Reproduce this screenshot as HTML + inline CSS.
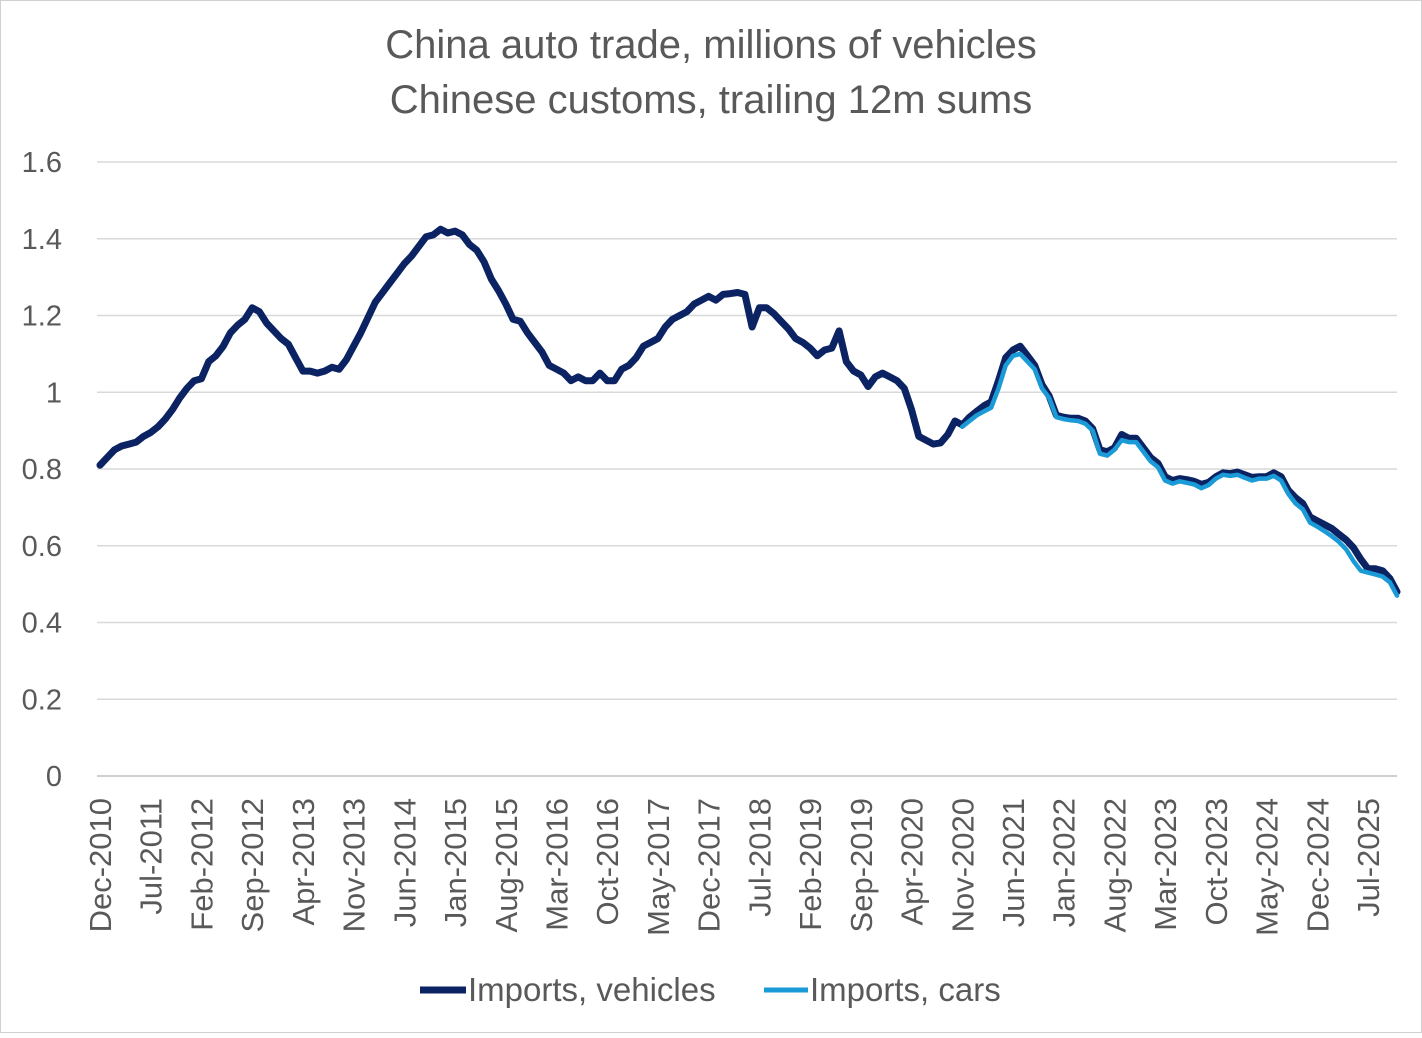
<!DOCTYPE html>
<html><head><meta charset="utf-8"><style>
body{margin:0;background:#fff;}
svg text{font-family:"Liberation Sans",sans-serif;fill:#595959;}
</style></head><body>
<svg id="chart" width="1422" height="1033">
<rect x="0.5" y="0.5" width="1421" height="1032" fill="#fff" stroke="#d0d0d0"/>
<text x="711" y="58" font-size="40" text-anchor="middle">China auto trade, millions of vehicles</text>
<text x="711" y="113" font-size="40" text-anchor="middle">Chinese customs, trailing 12m sums</text>
<g id="grid"></g><g id="yticks"></g><g id="xticks"></g><g id="series"></g>
<g>
<line x1="420" y1="990" x2="466" y2="990" stroke="#0b2363" stroke-width="7"/>
<text x="468" y="1001" font-size="33">Imports, vehicles</text>
<line x1="764" y1="990" x2="808" y2="990" stroke="#1a9ad6" stroke-width="5"/>
<text x="810" y="1001" font-size="33">Imports, cars</text>
</g>
</svg>
<script>
const yTicks=[0,0.2,0.4,0.6,0.8,1,1.2,1.4,1.6];
const xLabels=["Dec-2010","Jul-2011","Feb-2012","Sep-2012","Apr-2013","Nov-2013","Jun-2014","Jan-2015","Aug-2015","Mar-2016","Oct-2016","May-2017","Dec-2017","Jul-2018","Feb-2019","Sep-2019","Apr-2020","Nov-2020","Jun-2021","Jan-2022","Aug-2022","Mar-2023","Oct-2023","May-2024","Dec-2024","Jul-2025"];
const vehicles=[0.81,0.83,0.85,0.86,0.865,0.87,0.885,0.895,0.91,0.93,0.955,0.985,1.01,1.03,1.035,1.08,1.095,1.12,1.155,1.175,1.19,1.22,1.21,1.18,1.16,1.14,1.125,1.09,1.055,1.055,1.05,1.055,1.065,1.06,1.085,1.12,1.155,1.195,1.235,1.26,1.285,1.31,1.335,1.355,1.38,1.405,1.41,1.425,1.415,1.42,1.41,1.385,1.37,1.34,1.295,1.265,1.23,1.19,1.185,1.155,1.13,1.105,1.07,1.06,1.05,1.03,1.04,1.03,1.03,1.05,1.03,1.03,1.06,1.07,1.09,1.12,1.13,1.14,1.17,1.19,1.2,1.21,1.23,1.24,1.25,1.24,1.255,1.257,1.26,1.255,1.17,1.22,1.22,1.205,1.185,1.165,1.14,1.13,1.115,1.095,1.11,1.115,1.16,1.08,1.055,1.045,1.015,1.04,1.05,1.04,1.03,1.01,0.955,0.885,0.875,0.865,0.868,0.89,0.925,0.915,0.935,0.95,0.965,0.975,1.03,1.09,1.11,1.12,1.095,1.07,1.02,0.99,0.94,0.935,0.932,0.932,0.925,0.905,0.85,0.845,0.855,0.89,0.88,0.88,0.855,0.83,0.815,0.78,0.77,0.775,0.772,0.768,0.76,0.765,0.78,0.79,0.788,0.792,0.785,0.778,0.78,0.78,0.79,0.78,0.745,0.725,0.71,0.675,0.665,0.655,0.645,0.63,0.615,0.595,0.565,0.54,0.54,0.535,0.515,0.48];
const cars=[0.91,0.925,0.94,0.95,0.96,1.01,1.07,1.095,1.1,1.08,1.06,1.01,0.985,0.935,0.93,0.927,0.925,0.918,0.9,0.84,0.835,0.85,0.875,0.87,0.87,0.845,0.82,0.805,0.77,0.762,0.768,0.764,0.76,0.75,0.758,0.775,0.785,0.782,0.785,0.777,0.77,0.775,0.775,0.782,0.77,0.735,0.71,0.695,0.66,0.65,0.638,0.625,0.61,0.59,0.56,0.535,0.53,0.525,0.52,0.505,0.47];
const NS="http://www.w3.org/2000/svg";
const X0=100,X1=1397,Y0=776,Y1=162;
const n=vehicles.length;
const xs=i=>X0+(X1-X0)*i/(n-1);
const ys=v=>Y0-(Y0-Y1)*v/1.6;
function mk(t,a,p){const e=document.createElementNS(NS,t);for(const k in a)e.setAttribute(k,a[k]);document.getElementById(p).appendChild(e);return e;}
yTicks.forEach(v=>{
 const l=mk('line',{x1:97,x2:1397,y1:ys(v),y2:ys(v),stroke:v===0?'#bfbfbf':'#d9d9d9','stroke-width':1.5},'grid');
 
 
 const t=mk('text',{x:62,y:ys(v)+10,'font-size':29,'text-anchor':'end'},'yticks');
 t.textContent=String(v);
 
 
});
xLabels.forEach((s,k)=>{
 const x=xs(k*7);
 const t=mk('text',{x:0,y:0,'font-size':31,'text-anchor':'end',transform:`translate(${x+11},798) rotate(-90)`},'xticks');
 t.textContent=s;
 
 
});
const pv=vehicles.map((v,i)=>xs(i).toFixed(1)+','+ys(v).toFixed(1)).join(' ');
const l1=mk('polyline',{points:pv,fill:'none',stroke:'#0b2363','stroke-width':7,'stroke-linejoin':'round','stroke-linecap':'round'},'series');


const off=n-cars.length;
const pc=cars.map((v,i)=>xs(i+off).toFixed(1)+','+ys(v).toFixed(1)).join(' ');
const l2=mk('polyline',{points:pc,fill:'none',stroke:'#1a9ad6','stroke-width':4.5,'stroke-linejoin':'round','stroke-linecap':'round'},'series');


</script>
</body></html>
